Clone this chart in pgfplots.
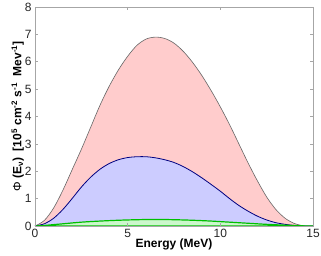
\documentclass[border=0pt]{standalone}
\usepackage{fontspec}
\setmainfont{Liberation Sans}
\usepackage{pgfplots}
\pgfplotsset{compat=1.18}
\definecolor{redfill}{rgb}{1,0.8,0.8}
\definecolor{bluefill}{rgb}{0.8,0.8,1}
\definecolor{greenfill}{rgb}{0.8,0.97,0.8}
\definecolor{navy}{rgb}{0,0,0.5}
\definecolor{grn}{rgb}{0,0.75,0}
\begin{document}
\begin{tikzpicture}
\begin{axis}[
  name=ax,
  scale only axis,
  width=278pt, height=219pt,
  xmin=0, xmax=15, ymin=0, ymax=8,
  xtick={0,5,10,15}, ytick={0,1,2,3,4,5,6,7,8},
  tick align=inside,
  major tick length=3pt,
  tick style={gray!70, line width=0.6pt},
  axis line style={gray!70, line width=0.9pt},
  ticklabel style={font=\fontsize{12}{14}\selectfont, text=black!85},
  /pgf/number format/assume math mode=true,
  xlabel={\textbf{Energy (MeV)}},
  ylabel={\textbf{\textnormal{Φ} (E\textsubscript{ν}) \ [10\textsuperscript{5} cm\textsuperscript{-2} s\textsuperscript{-1} \ Mev\textsuperscript{-1}]}},
  label style={font=\fontsize{12}{14}\selectfont},
  xlabel style={yshift=6pt},
  ylabel style={yshift=-6pt},
  axis on top,
]
\addplot[fill=redfill, draw=black!60, line width=0.6pt, smooth] coordinates {
(0,0) (0.5,0.2) (1.0,0.65) (1.5,1.3) (2.0,2.05) (2.5,2.8) (3.0,3.6) (3.5,4.4)
(4.0,5.1) (4.5,5.7) (5.0,6.2) (5.5,6.6) (6.0,6.83) (6.5,6.9) (7.0,6.85) (7.5,6.68)
(8.0,6.38) (8.5,5.98) (9.0,5.5) (9.5,4.95) (10.0,4.35) (10.5,3.7) (11.0,3.0)
(11.5,2.3) (12.0,1.65) (12.5,1.06) (13.0,0.6) (13.5,0.28) (14.0,0.09) (14.5,0.01) (15,0)
} \closedcycle;
\addplot[fill=bluefill, draw=navy, line width=0.8pt, smooth] coordinates {
(0,0) (0.5,0.08) (1.0,0.28) (1.5,0.6) (2.0,1.0) (2.5,1.42) (3.0,1.78) (3.5,2.07)
(4.0,2.28) (4.5,2.42) (5.0,2.5) (5.5,2.53) (6.0,2.53) (6.5,2.49) (7.0,2.42) (7.5,2.32)
(8.0,2.17) (8.5,1.98) (9.0,1.76) (9.5,1.52) (10.0,1.27) (10.5,1.0) (11.0,0.75)
(11.5,0.54) (12.0,0.36) (12.5,0.22) (13.0,0.12) (13.5,0.06) (14.0,0.02) (14.5,0) (15,0)
} \closedcycle;
\addplot[fill=greenfill, draw=grn, line width=1.2pt, smooth] coordinates {
(0,0) (0.5,0.02) (1.5,0.08) (2.5,0.14) (3.5,0.18) (4.5,0.21) (5.5,0.23) (6.5,0.24)
(7.5,0.23) (8.5,0.21) (9.5,0.18) (10.5,0.14) (11.5,0.1) (12.5,0.06) (13.5,0.03)
(14.5,0.005) (15,0)
} \closedcycle;
\end{axis}
\pgfresetboundingbox
\path[use as bounding box] ([shift={(-35pt,-30pt)}]ax.south west) rectangle ([shift={(8pt,7pt)}]ax.north east);
\end{tikzpicture}
\end{document}
